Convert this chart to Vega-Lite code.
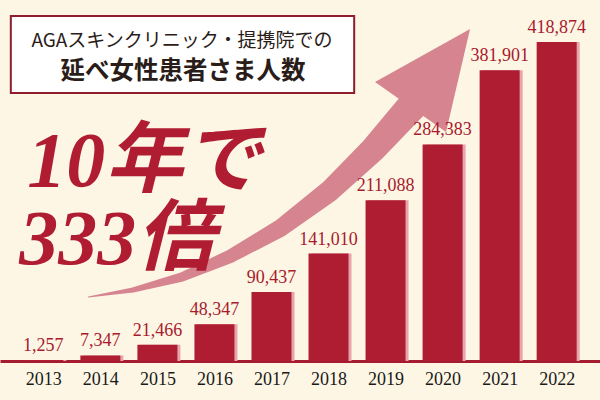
{
  "$schema": "https://vega.github.io/schema/vega-lite/v6.json",
  "autosize": {"type": "none"},
  "width": 600,
  "height": 361,
  "padding": {"left": 0, "right": 0, "top": 0, "bottom": 39},
  "background": "#FDF6E4",
  "config": {"view": {"stroke": null}},
  "datasets": {
    "patients": [
      {"year": 2013, "count": 1257},
      {"year": 2014, "count": 7347},
      {"year": 2015, "count": 21466},
      {"year": 2016, "count": 48347},
      {"year": 2017, "count": 90437},
      {"year": 2018, "count": 141010},
      {"year": 2019, "count": 211088},
      {"year": 2020, "count": 284383},
      {"year": 2021, "count": 381901},
      {"year": 2022, "count": 418874}
    ],
    "arrow": [
      {"step": 1, "year": 2013.79, "count": 84000},
      {"step": 2, "year": 2014.57, "count": 93200},
      {"step": 3, "year": 2015.43, "count": 110300},
      {"step": 4, "year": 2016.29, "count": 137900},
      {"step": 5, "year": 2017.16, "count": 174600},
      {"step": 6, "year": 2018.02, "count": 223200},
      {"step": 7, "year": 2018.79, "count": 278400},
      {"step": 8, "year": 2019.48, "count": 336100}
    ],
    "arrowHead": [{"year": 2019.78, "count": 367600}],
    "box": [{"year": 2012.43, "year2": 2018.45, "count": 453000, "count2": 351900}],
    "line1": [{"year": 2015.43, "count": 420500, "label": "AGAスキンクリニック・提携院での"}],
    "line2": [{"year": 2015.45, "count": 379000, "label": "延べ女性患者さま人数"}],
    "big": [
      {"year": 2012.72, "count": 229800, "label": "10年で"},
      {"year": 2012.58, "count": 127400, "label": "333倍"}
    ]
  },
  "layer": [
    {
      "data": {"name": "arrow"},
      "mark": {"type": "trail", "color": "#D6848F"},
      "encoding": {
        "x": {"field": "year", "type": "quantitative", "scale": {"domain": [2012.328, 2022.672], "nice": false, "zero": false}, "axis": {"values": [2013, 2014, 2015, 2016, 2017, 2018, 2019, 2020, 2021, 2022], "format": "d", "ticks": false, "grid": false, "title": null, "domainColor": "#A51B2F", "domainWidth": 3, "labelFont": "Liberation Serif", "labelFontSize": 18, "labelColor": "#1a1a1a", "labelPadding": 9, "labelFlush": false, "labelOverlap": false}},
        "y": {"field": "count", "type": "quantitative", "scale": {"domain": [0, 474000], "nice": false}, "axis": null},
        "order": {"field": "step", "type": "quantitative"},
        "size": {"field": "step", "type": "quantitative", "scale": {"domain": [1, 8], "range": [1, 30]}, "legend": null}
      }
    },
    {
      "data": {"name": "arrowHead"},
      "mark": {"type": "point", "shape": "M0.8,-1.04L-1.1,0.02L0.32,1.02Z", "size": 10000, "filled": true, "opacity": 1, "color": "#D6848F", "strokeWidth": 0},
      "encoding": {
        "x": {"field": "year", "type": "quantitative"},
        "y": {"field": "count", "type": "quantitative"}
      }
    },
    {
      "data": {"name": "patients"},
      "mark": {"type": "bar", "width": 40, "color": "#E8A3AB", "xOffset": 3},
      "encoding": {
        "x": {"field": "year", "type": "quantitative"},
        "y": {"field": "count", "type": "quantitative"}
      }
    },
    {
      "data": {"name": "patients"},
      "mark": {"type": "bar", "width": 40, "color": "#AE1D31"},
      "encoding": {
        "x": {"field": "year", "type": "quantitative"},
        "y": {"field": "count", "type": "quantitative"}
      }
    },
    {
      "data": {"name": "patients"},
      "mark": {"type": "text", "baseline": "bottom", "dy": -5, "font": "Liberation Serif", "fontSize": 18, "color": "#A81A2E"},
      "encoding": {
        "x": {"field": "year", "type": "quantitative"},
        "y": {"field": "count", "type": "quantitative"},
        "text": {"field": "count", "type": "quantitative", "format": ","}
      }
    },
    {
      "data": {"name": "box"},
      "mark": {"type": "rect", "fill": "#FFFFFF", "stroke": "#8E1D2D", "strokeWidth": 2},
      "encoding": {
        "x": {"field": "year", "type": "quantitative"},
        "x2": {"field": "year2"},
        "y": {"field": "count", "type": "quantitative"},
        "y2": {"field": "count2"}
      }
    },
    {
      "data": {"name": "line1"},
      "mark": {"type": "text", "baseline": "middle", "align": "center", "font": "Noto Sans CJK JP", "fontSize": 19, "color": "#2A1C18"},
      "encoding": {
        "x": {"field": "year", "type": "quantitative"},
        "y": {"field": "count", "type": "quantitative"},
        "text": {"field": "label"}
      }
    },
    {
      "data": {"name": "line2"},
      "mark": {"type": "text", "baseline": "middle", "align": "center", "font": "Noto Sans CJK JP", "fontSize": 24.5, "fontWeight": "bold", "color": "#2A1C18"},
      "encoding": {
        "x": {"field": "year", "type": "quantitative"},
        "y": {"field": "count", "type": "quantitative"},
        "text": {"field": "label"}
      }
    },
    {
      "data": {"name": "big"},
      "mark": {"type": "text", "baseline": "alphabetic", "align": "left", "font": "Liberation Serif, Noto Sans CJK JP", "fontSize": 78, "fontStyle": "italic", "fontWeight": "bold", "color": "#B01C32"},
      "encoding": {
        "x": {"field": "year", "type": "quantitative"},
        "y": {"field": "count", "type": "quantitative"},
        "text": {"field": "label"}
      }
    }
  ]
}
